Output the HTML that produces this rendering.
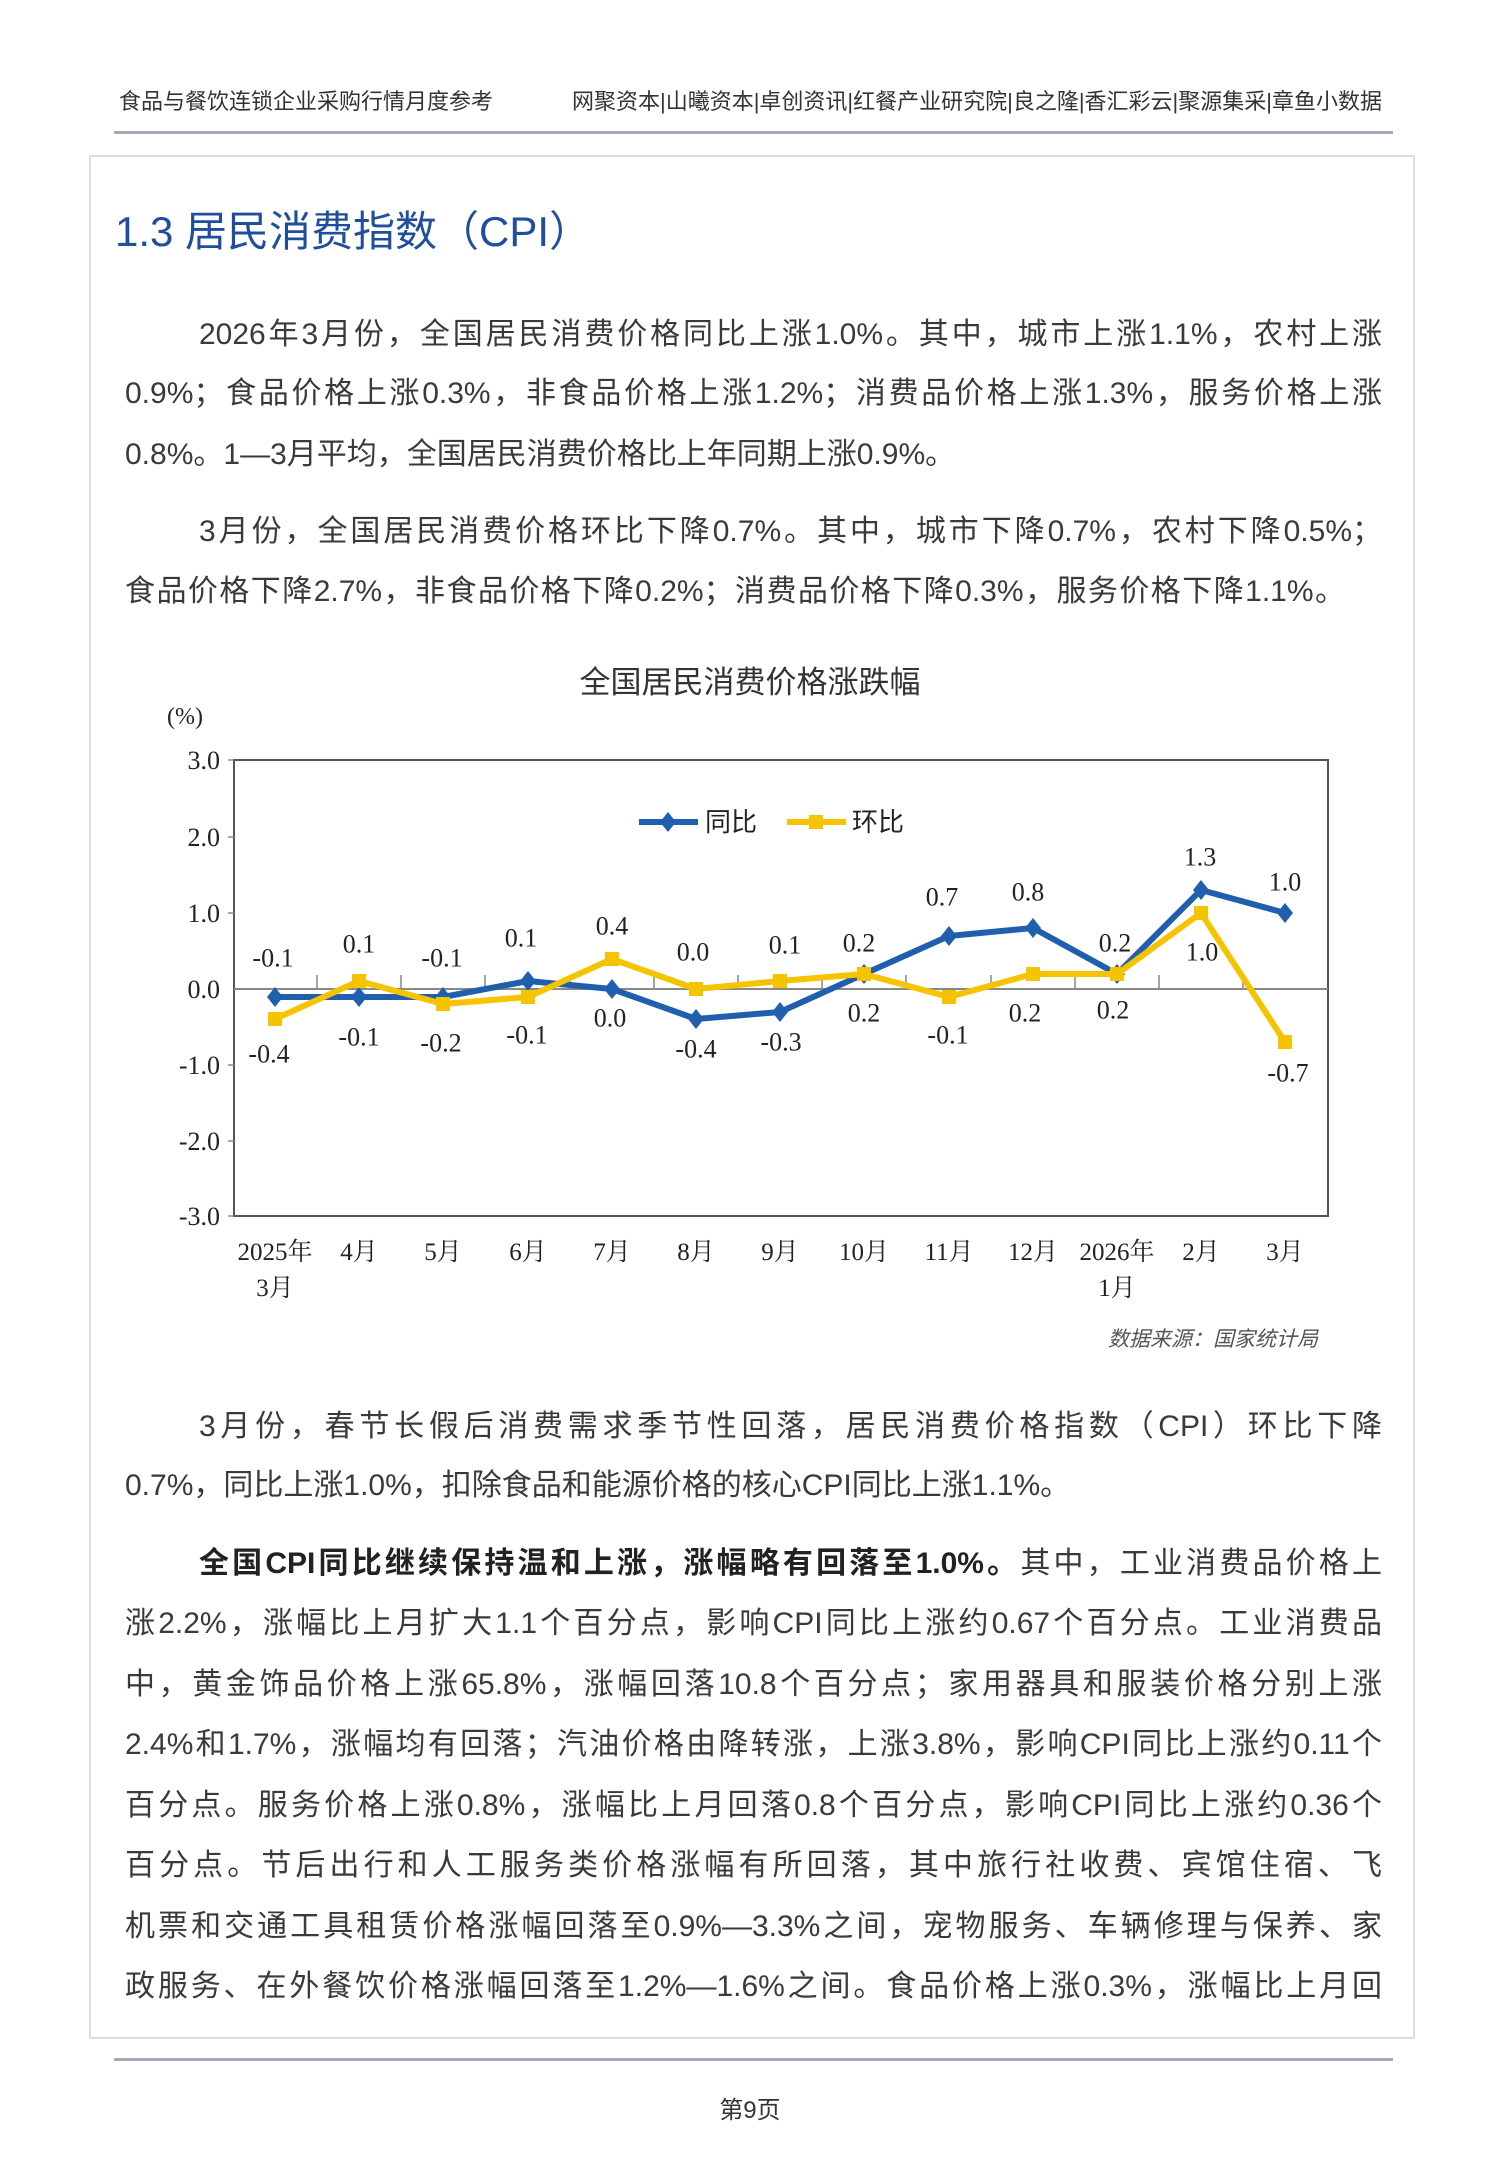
<!DOCTYPE html>
<html><head><meta charset="utf-8"><style>
body{margin:0;background:#fff;}
#p{position:relative;width:1500px;height:2167px;overflow:hidden;background:#fff;font-family:"Liberation Sans","Noto Sans CJK SC",sans-serif;color:#3a3a3a;}
.a{position:absolute;white-space:nowrap;}
.l{position:absolute;left:125px;width:1257px;height:60px;line-height:60px;font-size:30px;text-align:justify;text-align-last:justify;white-space:nowrap;}
.n{text-align-last:left;}
.i{text-indent:0;padding-left:74px;width:1183px;}
</style></head><body><div id="p">
<div class="a" style="left:119px;top:84px;font-size:22px;color:#333">食品与餐饮连锁企业采购行情月度参考</div>
<div class="a" style="right:118px;top:84px;font-size:22px;color:#333">网聚资本|山曦资本|卓创资讯|红餐产业研究院|良之隆|香汇彩云|聚源集采|章鱼小数据</div>
<div class="a" style="left:114px;top:131px;width:1279px;height:3px;background:#a3a9b7"></div>
<div class="a" style="left:89px;top:155px;width:1322px;height:1880px;border:2px solid #dcdcdc"></div>
<div class="a" style="left:115px;top:204px;font-size:42px;color:#1f4e9c;line-height:56px">1.3 居民消费指数（CPI）</div>

<div class="l i" style="top:305px">2026年3月份，全国居民消费价格同比上涨1.0%。其中，城市上涨1.1%，农村上涨</div>
<div class="l" style="top:364px">0.9%；食品价格上涨0.3%，非食品价格上涨1.2%；消费品价格上涨1.3%，服务价格上涨</div>
<div class="l n" style="top:425px">0.8%。1—3月平均，全国居民消费价格比上年同期上涨0.9%。</div>
<div class="l i" style="top:502px">3月份，全国居民消费价格环比下降0.7%。其中，城市下降0.7%，农村下降0.5%；</div>
<div class="l" style="top:562px;width:1220px">食品价格下降2.7%，非食品价格下降0.2%；消费品价格下降0.3%，服务价格下降1.1%。</div>

<div class="a" style="left:0;width:1500px;top:657px;text-align:center;font-size:31px;color:#333">全国居民消费价格涨跌幅</div>

<svg class="a" style="left:0;top:0" width="1500" height="2167" font-family="Liberation Serif, Noto Serif CJK SC, serif">
<text x="185" y="724" font-size="24" text-anchor="middle" fill="#222">(%)</text>
<rect x="234" y="760" width="1094" height="456" fill="none" stroke="#555" stroke-width="2"/>
<line x1="234" y1="989" x2="1328" y2="989" stroke="#888" stroke-width="2"/>
<g stroke="#888" stroke-width="1.5">
<line x1="317" y1="989" x2="317" y2="975"/><line x1="401" y1="989" x2="401" y2="975"/><line x1="485" y1="989" x2="485" y2="975"/><line x1="570" y1="989" x2="570" y2="975"/><line x1="654" y1="989" x2="654" y2="975"/><line x1="738" y1="989" x2="738" y2="975"/><line x1="822" y1="989" x2="822" y2="975"/><line x1="906" y1="989" x2="906" y2="975"/><line x1="991" y1="989" x2="991" y2="975"/><line x1="1075" y1="989" x2="1075" y2="975"/><line x1="1159" y1="989" x2="1159" y2="975"/><line x1="1243" y1="989" x2="1243" y2="975"/>
<line x1="228" y1="760" x2="234" y2="760"/><line x1="228" y1="837" x2="234" y2="837"/><line x1="228" y1="913" x2="234" y2="913"/><line x1="228" y1="1065" x2="234" y2="1065"/><line x1="228" y1="1141" x2="234" y2="1141"/><line x1="228" y1="1216" x2="234" y2="1216"/>
</g>
<g font-size="26" text-anchor="end" fill="#222">
<text x="220" y="769">3.0</text><text x="220" y="846">2.0</text><text x="220" y="922">1.0</text><text x="220" y="998">0.0</text><text x="220" y="1074">-1.0</text><text x="220" y="1150">-2.0</text><text x="220" y="1225">-3.0</text>
</g>
<line x1="639" y1="822" x2="698" y2="822" stroke="#1f5fad" stroke-width="6"/>
<path d="M668 812 L676 822 L668 832 L660 822Z" fill="#1f5fad"/>
<text x="705" y="831" font-size="26" fill="#222" font-family="Noto Sans CJK SC, sans-serif">同比</text>
<line x1="787" y1="822" x2="846" y2="822" stroke="#f5c300" stroke-width="6"/>
<rect x="809" y="815" width="14" height="14" fill="#f5c300"/>
<text x="852" y="831" font-size="26" fill="#222" font-family="Noto Sans CJK SC, sans-serif">环比</text>
<polyline fill="none" stroke="#1f5fad" stroke-width="6" stroke-linejoin="round" points="275,997 359,997 443,997 528,981 612,989 696,1019 780,1012 864,974 949,936 1033,928 1117,974 1201,890 1285,913"/>
<g fill="#1f5fad">
<path d="M275 987l8 10-8 10-8-10z"/><path d="M359 987l8 10-8 10-8-10z"/><path d="M443 987l8 10-8 10-8-10z"/><path d="M528 971l8 10-8 10-8-10z"/><path d="M612 979l8 10-8 10-8-10z"/><path d="M696 1009l8 10-8 10-8-10z"/><path d="M780 1002l8 10-8 10-8-10z"/><path d="M864 964l8 10-8 10-8-10z"/><path d="M949 926l8 10-8 10-8-10z"/><path d="M1033 918l8 10-8 10-8-10z"/><path d="M1117 964l8 10-8 10-8-10z"/><path d="M1201 880l8 10-8 10-8-10z"/><path d="M1285 903l8 10-8 10-8-10z"/>
</g>
<polyline fill="none" stroke="#f5c300" stroke-width="6" stroke-linejoin="round" points="275,1019 359,981 443,1004 528,997 612,959 696,989 780,981 864,974 949,997 1033,974 1117,974 1201,913 1285,1042"/>
<g fill="#f5c300">
<rect x="268" y="1012" width="14" height="14"/><rect x="352" y="974" width="14" height="14"/><rect x="436" y="997" width="14" height="14"/><rect x="521" y="990" width="14" height="14"/><rect x="605" y="952" width="14" height="14"/><rect x="689" y="982" width="14" height="14"/><rect x="773" y="974" width="14" height="14"/><rect x="857" y="967" width="14" height="14"/><rect x="942" y="990" width="14" height="14"/><rect x="1026" y="967" width="14" height="14"/><rect x="1110" y="967" width="14" height="14"/><rect x="1194" y="906" width="14" height="14"/><rect x="1278" y="1035" width="14" height="14"/>
</g>
<g font-size="26" text-anchor="middle" fill="#222" dominant-baseline="central">
<text x="273" y="958">-0.1</text><text x="359" y="944">0.1</text><text x="442" y="958">-0.1</text><text x="521" y="938">0.1</text><text x="612" y="926">0.4</text><text x="693" y="952">0.0</text><text x="785" y="945">0.1</text><text x="859" y="943">0.2</text><text x="942" y="897">0.7</text><text x="1028" y="892">0.8</text><text x="1115" y="943">0.2</text><text x="1200" y="857">1.3</text><text x="1285" y="882">1.0</text>
<text x="269" y="1054">-0.4</text><text x="359" y="1037">-0.1</text><text x="441" y="1043">-0.2</text><text x="527" y="1035">-0.1</text><text x="610" y="1018">0.0</text><text x="696" y="1049">-0.4</text><text x="781" y="1042">-0.3</text><text x="864" y="1013">0.2</text><text x="948" y="1035">-0.1</text><text x="1025" y="1013">0.2</text><text x="1113" y="1010">0.2</text><text x="1202" y="952">1.0</text><text x="1288" y="1073">-0.7</text>
</g>
<g font-size="25" text-anchor="middle" fill="#222" font-family="Liberation Serif, Noto Serif CJK SC, serif">
<text x="275" y="1260">2025年</text><text x="275" y="1296">3月</text><text x="359" y="1260">4月</text><text x="443" y="1260">5月</text><text x="528" y="1260">6月</text><text x="612" y="1260">7月</text><text x="696" y="1260">8月</text><text x="780" y="1260">9月</text><text x="864" y="1260">10月</text><text x="949" y="1260">11月</text><text x="1033" y="1260">12月</text><text x="1117" y="1260">2026年</text><text x="1117" y="1296">1月</text><text x="1201" y="1260">2月</text><text x="1285" y="1260">3月</text>
</g>
<text x="1318" y="1346" font-size="21" text-anchor="end" fill="#555" font-style="italic" font-family="Noto Sans CJK SC, sans-serif">数据来源：国家统计局</text>
</svg>

<div class="l i" style="top:1397px">3月份，春节长假后消费需求季节性回落，居民消费价格指数（CPI）环比下降</div>
<div class="l n" style="top:1456px">0.7%，同比上涨1.0%，扣除食品和能源价格的核心CPI同比上涨1.1%。</div>
<div class="l i" style="top:1534px"><b style="color:#222">全国CPI同比继续保持温和上涨，涨幅略有回落至1.0%。</b>其中，工业消费品价格上</div>
<div class="l" style="top:1594px">涨2.2%，涨幅比上月扩大1.1个百分点，影响CPI同比上涨约0.67个百分点。工业消费品</div>
<div class="l" style="top:1655px">中，黄金饰品价格上涨65.8%，涨幅回落10.8个百分点；家用器具和服装价格分别上涨</div>
<div class="l" style="top:1715px">2.4%和1.7%，涨幅均有回落；汽油价格由降转涨，上涨3.8%，影响CPI同比上涨约0.11个</div>
<div class="l" style="top:1776px">百分点。服务价格上涨0.8%，涨幅比上月回落0.8个百分点，影响CPI同比上涨约0.36个</div>
<div class="l" style="top:1836px">百分点。节后出行和人工服务类价格涨幅有所回落，其中旅行社收费、宾馆住宿、飞</div>
<div class="l" style="top:1897px">机票和交通工具租赁价格涨幅回落至0.9%—3.3%之间，宠物服务、车辆修理与保养、家</div>
<div class="l" style="top:1957px">政服务、在外餐饮价格涨幅回落至1.2%—1.6%之间。食品价格上涨0.3%，涨幅比上月回</div>

<div class="a" style="left:114px;top:2058px;width:1279px;height:3px;background:#a3a9b7"></div>
<div class="a" style="left:0;width:1500px;top:2090px;text-align:center;font-size:24px;color:#333">第9页</div>
</div></body></html>
